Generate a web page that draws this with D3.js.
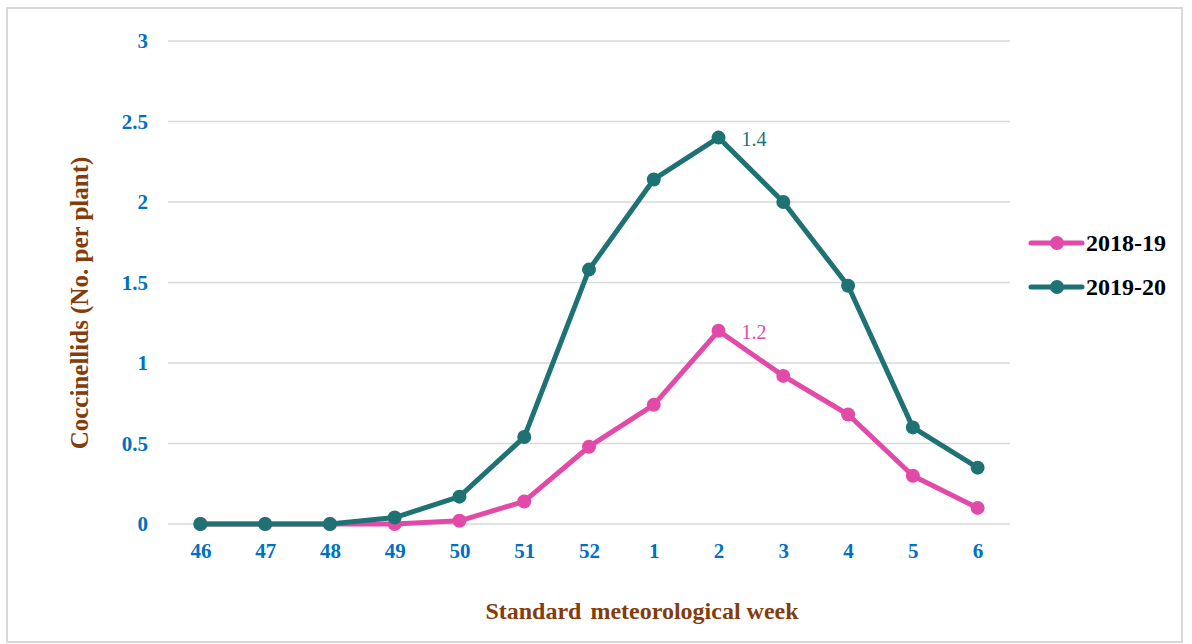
<!DOCTYPE html>
<html>
<head>
<meta charset="utf-8">
<script src="https://cdn.jsdelivr.net/npm/d3@7/dist/d3.min.js"></script>
<style>
  html, body { margin: 0; padding: 0; background: #fff; }
  svg { display: block; }
</style>
</head>
<body>
<svg id="chart" width="1192" height="644"></svg>
<script>
// Standard meteorological weeks (Nov–Feb)
const weeks = ["46", "47", "48", "49", "50", "51", "52", "1", "2", "3", "4", "5", "6"];

// Coccinellid counts (No. per plant)
const season2018 = [0, 0, 0, 0, 0.02, 0.14, 0.48, 0.74, 1.2, 0.92, 0.68, 0.30, 0.10];
const season2019 = [0, 0, 0, 0.04, 0.17, 0.54, 1.58, 2.14, 2.40, 2.0, 1.48, 0.60, 0.35];

const seriesNames = ["2018-19", "2019-20"];
const yTicks = [0, 0.5, 1, 1.5, 2, 2.5, 3];
const yTickLabels = ["0", "0.5", "1", "1.5", "2", "2.5", "3"];

// Peak annotations as printed on the chart
const peakWeek = "2";
const peakLabels = ["1.2", "1.4"];

const colors = ["#e24aa9", "#1f7273"];
const serif = "Liberation Serif, Times New Roman, serif";

const svg = d3.select("#chart");

// outer frame
svg.append("rect")
  .attr("x", 7).attr("y", 8)
  .attr("width", 1175).attr("height", 634)
  .attr("fill", "#fff")
  .attr("stroke", "#d9d9d9")
  .attr("stroke-width", 2);

const x = d3.scalePoint().domain(weeks).range([168, 1010]).padding(0.5);
const y = d3.scaleLinear().domain([0, 3]).range([524, 41]);

// horizontal grid
svg.append("g")
  .selectAll("line")
  .data(yTicks)
  .join("line")
  .attr("x1", 168).attr("x2", 1010)
  .attr("y1", d => y(d)).attr("y2", d => y(d))
  .attr("stroke", "#d9d9d9")
  .attr("stroke-width", 1.5);

// y axis labels
const yAxis = d3.axisLeft(y)
  .tickValues(yTicks)
  .tickFormat((d, i) => yTickLabels[i])
  .tickSize(0)
  .tickPadding(0);
const gy = svg.append("g").attr("transform", "translate(148,0)").call(yAxis);
gy.select(".domain").remove();
gy.selectAll("text")
  .attr("fill", "#0070c0")
  .attr("font-family", serif)
  .attr("font-weight", "bold")
  .attr("font-size", 21)
  .attr("dy", "0.33em");

// x axis labels
const xAxis = d3.axisBottom(x).tickSize(0).tickPadding(0);
const gx = svg.append("g").attr("transform", "translate(0,558)").call(xAxis);
gx.select(".domain").remove();
gx.selectAll("text")
  .attr("fill", "#0070c0")
  .attr("font-family", serif)
  .attr("font-weight", "bold")
  .attr("font-size", 21)
  .attr("dy", "0");

// axis titles
svg.append("text")
  .attr("transform", "translate(88,303) rotate(-90)")
  .attr("text-anchor", "middle")
  .attr("fill", "#843c0c")
  .attr("font-family", serif)
  .attr("font-weight", "bold")
  .attr("font-size", 25)
  .text("Coccinellids (No. per plant)");

const xt = svg.append("text")
  .attr("x", 642).attr("y", 619)
  .attr("text-anchor", "middle")
  .attr("fill", "#843c0c")
  .attr("font-family", serif)
  .attr("font-weight", "bold")
  .attr("font-size", 24);
xt.append("tspan").text("Standard");
xt.append("tspan").attr("dx", 9).text("meteorological week");

// series lines and markers
const seriesData = [season2018, season2019];
const line = d3.line()
  .x((d, i) => x(weeks[i]))
  .y(d => y(d));

// draw 2018-19 first, then 2019-20 on top
seriesData.forEach((vals, s) => {
  const g = svg.append("g");
  g.append("path")
    .datum(vals)
    .attr("d", line)
    .attr("fill", "none")
    .attr("stroke", colors[s])
    .attr("stroke-width", 5)
    .attr("stroke-linejoin", "round");
  g.selectAll("circle")
    .data(vals)
    .join("circle")
    .attr("cx", (d, i) => x(weeks[i]))
    .attr("cy", d => y(d))
    .attr("r", 7)
    .attr("fill", colors[s]);
});

// peak annotations
seriesData.forEach((vals, s) => {
  const idx = weeks.indexOf(peakWeek);
  svg.append("text")
    .attr("x", x(peakWeek) + 23)
    .attr("y", y(vals[idx]) + 8)
    .attr("fill", colors[s])
    .attr("font-family", serif)
    .attr("font-size", 20)
    .text(peakLabels[s]);
});

// legend
const legend = svg.append("g");
seriesNames.forEach((name, s) => {
  const ly = 243 + s * 44;
  legend.append("line")
    .attr("x1", 1031).attr("x2", 1082)
    .attr("y1", ly).attr("y2", ly)
    .attr("stroke", colors[s])
    .attr("stroke-width", 5)
    .attr("stroke-linecap", "round");
  legend.append("circle")
    .attr("cx", 1057).attr("cy", ly).attr("r", 7)
    .attr("fill", colors[s]);
  legend.append("text")
    .attr("x", 1086).attr("y", ly + 8)
    .attr("fill", "#000")
    .attr("font-family", serif)
    .attr("font-weight", "bold")
    .attr("font-size", 24)
    .text(name);
});
</script>
</body>
</html>
